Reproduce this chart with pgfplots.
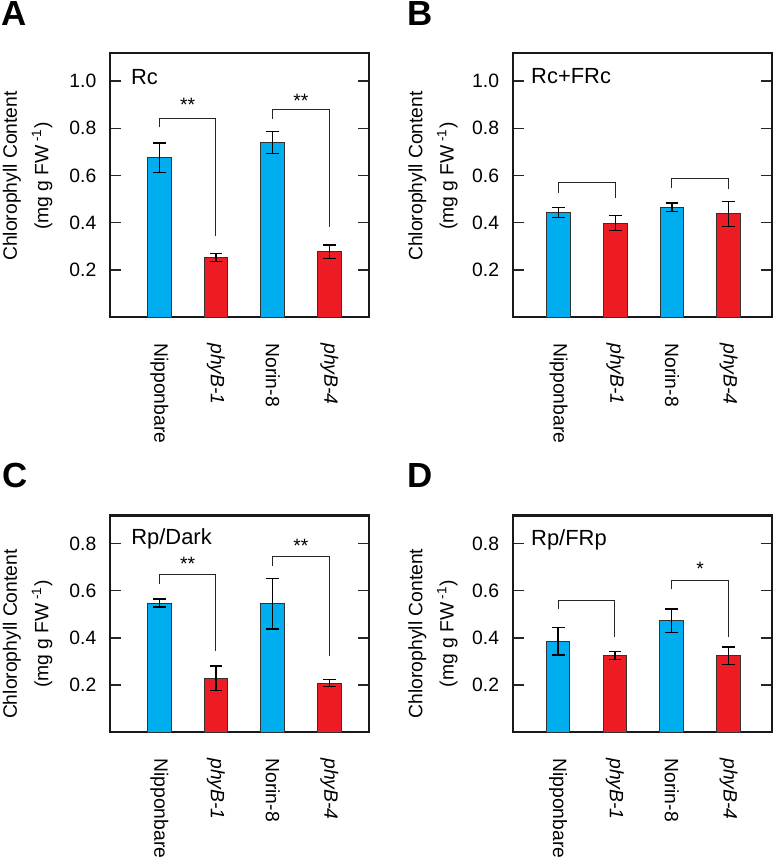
\documentclass[border=0pt]{standalone}
\usepackage{fontspec}
\setmainfont{Liberation Sans}
\usepackage{pgfplots}
\pgfplotsset{compat=1.18}
\definecolor{cblue}{RGB}{0,174,239}
\definecolor{cred}{RGB}{237,28,36}
\newcommand{\fs}{\fontsize{9.7}{11}\selectfont}
\pgfplotsset{
  panel/.style={
    scale only axis, width=129.5bp,
    ymin=0,
    axis line style={line width=1.1bp, black!90},
    xtick={1,2,3,4},
    xticklabels={Nipponbare,\textit{phyB-1},Norin-8,\textit{phyB-4}},
    x tick style={draw=none},
    xticklabel style={rotate=-90, anchor=west, inner sep=0pt, font=\fs},
    xticklabel shift=13bp,
    ytick pos=both, yticklabel pos=left,
    tick align=inside,
    major tick length=5.5bp,
    y tick style={line width=0.7bp, black!85},
    yticklabel style={font=\fs, /pgf/number format/.cd, fixed, fixed zerofill, precision=1, assume math mode=true},
    yticklabel shift=3.3bp,
    ylabel={Chlorophyll Content\\(mg g FW\,\textsuperscript{-1})},
    ylabel style={anchor=center, align=center, font=\fontsize{9.7}{15.7}\selectfont},
    clip=false,
  },
  barcommon/.style={ybar, bar width=11.75bp, bar shift=0pt, draw=black!80, line width=0.5bp},
  errs/.style={error bars/.cd, y dir=both, y explicit,
    error bar style={line width=0.65bp, black},
    error mark options={rotate=90, mark size=3.2bp, line width=0.65bp, black}},
  bluebar/.style={barcommon, fill=cblue, errs},
  redbar/.style={barcommon, fill=cred, errs},
  bracket/.style={black!85, line width=0.5bp, mark=none},
}
\begin{document}
\begin{tikzpicture}
\path[use as bounding box] (0,0) rectangle (387.5bp,-429.5bp);
% Panel A
\begin{axis}[panel, at={(55bp,-158.5bp)}, anchor=south west, height=132bp,
  xmin=0.13, xmax=4.7, ymax=1.119, ytick={0.2,0.4,0.6,0.8,1.0},
  ylabel style={at={(rel axis cs:-0.318,0.534)}}]
\addplot[bluebar] coordinates {(1,0.675) +- (0,0.062) (3,0.740) +- (0,0.047)};
\addplot[redbar] coordinates {(2,0.253) +- (0,0.017) (4,0.277) +- (0,0.028)};
\addplot[bracket] coordinates {(1,0.804) (1,0.843) (2,0.843) (2,0.345)};
\addplot[bracket] coordinates {(3,0.839) (3,0.881) (4,0.881) (4,0.381)};
\node[font=\fs] at (axis cs:1.5,0.90) {**};
\node[font=\fs] at (axis cs:3.5,0.918) {**};
\node[anchor=base west, inner sep=0pt, font=\fontsize{11}{13}\selectfont] at (rel axis cs:0.08,0.879) {Rc};
\end{axis}
% Panel B
\begin{axis}[panel, at={(256.35bp,-158.5bp)}, anchor=south west, height=132bp,
  xmin=0.19, xmax=4.76, ymax=1.119, ytick={0.2,0.4,0.6,0.8,1.0},
  ylabel style={at={(rel axis cs:-0.308,0.534)}}]
\addplot[bluebar] coordinates {(1,0.443) +- (0,0.022) (3,0.465) +- (0,0.018)};
\addplot[redbar] coordinates {(2,0.398) +- (0,0.031) (4,0.437) +- (0,0.052)};
\addplot[bracket] coordinates {(1,0.527) (1,0.570) (2,0.570) (2,0.504)};
\addplot[bracket] coordinates {(3,0.546) (3,0.585) (4,0.585) (4,0.542)};
\node[anchor=base west, inner sep=0pt, font=\fontsize{11}{13}\selectfont] at (rel axis cs:0.07,0.883) {Rc+FRc};
\end{axis}
% Panel C
\begin{axis}[panel, at={(55bp,-366bp)}, anchor=south west, height=108.3bp,
  xmin=0.13, xmax=4.7, ymax=0.92, ytick={0.2,0.4,0.6,0.8},
  ylabel style={at={(rel axis cs:-0.318,0.452)}}]
\addplot[bluebar] coordinates {(1,0.548) +- (0,0.017) (3,0.545) +- (0,0.108)};
\addplot[redbar] coordinates {(2,0.228) +- (0,0.052) (4,0.208) +- (0,0.016)};
\addplot[bracket] coordinates {(1,0.627) (1,0.667) (2,0.667) (2,0.345)};
\addplot[bracket] coordinates {(3,0.705) (3,0.745) (4,0.745) (4,0.323)};
\node[font=\fs] at (axis cs:1.5,0.713) {**};
\node[font=\fs] at (axis cs:3.5,0.791) {**};
\node[anchor=base west, inner sep=0pt, font=\fontsize{11}{13}\selectfont] at (rel axis cs:0.081,0.866) {Rp/Dark};
\end{axis}
% Panel D
\begin{axis}[panel, at={(256.35bp,-366bp)}, anchor=south west, height=108.3bp,
  xmin=0.2, xmax=4.76, ymax=0.92, ytick={0.2,0.4,0.6,0.8},
  ylabel style={at={(rel axis cs:-0.308,0.455)}}]
\addplot[bluebar] coordinates {(1,0.386) +- (0,0.059) (3,0.473) +- (0,0.050)};
\addplot[redbar] coordinates {(2,0.324) +- (0,0.017) (4,0.324) +- (0,0.037)};
\addplot[bracket] coordinates {(1,0.521) (1,0.559) (2,0.559) (2,0.402)};
\addplot[bracket] coordinates {(3,0.606) (3,0.645) (4,0.645) (4,0.402)};
\node[font=\fs] at (axis cs:3.5,0.692) {*};
\node[anchor=base west, inner sep=0pt, font=\fontsize{11}{13}\selectfont] at (rel axis cs:0.07,0.863) {Rp/FRp};
\end{axis}
\node[anchor=base west, inner sep=0pt, font=\fontsize{17.5}{20}\selectfont\bfseries] at (0.5bp,-12.5bp) {A};
\node[anchor=base west, inner sep=0pt, font=\fontsize{17.5}{20}\selectfont\bfseries] at (203.5bp,-12.5bp) {B};
\node[anchor=base west, inner sep=0pt, font=\fontsize{17.5}{20}\selectfont\bfseries] at (1bp,-243.5bp) {C};
\node[anchor=base west, inner sep=0pt, font=\fontsize{17.5}{20}\selectfont\bfseries] at (203.5bp,-243.5bp) {D};
\end{tikzpicture}
\end{document}
